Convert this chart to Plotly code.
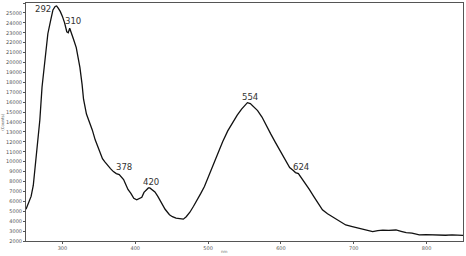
import plotly.graph_objects as go

wavelength = [250, 254, 257, 260, 262, 265, 269, 272, 276, 280, 284, 287, 290, 292,
              294, 297, 300, 303, 306, 308, 310, 312, 315, 319, 322, 324, 327, 329,
              333, 338, 341, 345, 350, 355, 358, 362, 366, 370, 374, 378, 381, 384,
              387, 390, 394, 398, 402, 405, 409, 412, 415, 418, 420, 423, 427, 431,
              436, 441, 447, 451, 456, 461, 466, 470, 475, 480, 485, 490, 495, 502,
              508, 515, 520, 527, 534, 540, 546, 550, 554, 558, 563, 568, 574, 580,
              586, 592, 596, 601, 606, 612, 617, 620, 624, 628, 633, 639, 645, 652,
              657, 664, 671, 680, 689, 698, 707, 716, 726, 733, 740, 748, 758, 765,
              772, 780, 790, 799, 808, 817, 826, 835, 844, 850]
counts = [5200, 5900, 6500, 7600, 9000, 11500, 14200, 17500, 20500, 22900, 24300, 25300, 25650, 25700,
          25500, 25150, 24650, 24000, 23100, 23000, 23450, 23100, 22400, 21500, 20300, 19500, 17800, 16300,
          14800, 13900, 13200, 12200, 11200, 10300, 10000, 9600, 9300, 9000, 8800, 8700, 8500, 8200,
          7700, 7200, 6800, 6300, 6150, 6250, 6400, 6900, 7150, 7350, 7350, 7200, 6950, 6500,
          5800, 5200, 4650, 4450, 4300, 4230, 4200, 4450, 4900, 5500, 6100, 6800, 7500, 8800,
          9800, 11200, 12000, 13100, 14000, 14700, 15300, 15650, 15950, 15850, 15500, 15150, 14500, 13600,
          12800, 12000, 11500, 10900, 10300, 9400, 9100, 8900, 8800, 8400, 7900, 7200, 6500, 5700,
          5150, 4750, 4450, 4000, 3620, 3450, 3280, 3130, 2950, 3050, 3100, 3080, 3110, 2980,
          2850, 2800, 2620, 2640, 2600, 2620, 2580, 2620, 2580, 2560]

peak_labels = ["292", "310", "378", "420", "554", "624"]
label_x = [273, 314, 384, 421, 558, 628]
label_y = [25450, 24200, 9500, 7980, 16600, 9500]

y_ticks = list(range(2000, 26001, 1000))
x_ticks = [300, 400, 500, 600, 700, 800]

fig = go.Figure()
fig.add_trace(go.Scatter(x=wavelength, y=counts, mode="lines",
                         line=dict(color="#111111", width=1.3), showlegend=False,
                         hoverinfo="skip"))

for t, xv, yv in zip(peak_labels, label_x, label_y):
    fig.add_annotation(x=xv, y=yv, text=t, showarrow=False,
                       font=dict(family="DejaVu Sans Condensed, DejaVu Sans", size=9.5, color="#333333"))

fig.add_annotation(xref="paper", yref="paper", x=0.455, y=-0.045, yanchor="middle",
                   text="nm", showarrow=False,
                   font=dict(family="DejaVu Sans", size=4, color="#666666"))
fig.add_annotation(xref="paper", yref="paper", x=-0.045, y=0.5, xanchor="right",
                   text="(Counts)", textangle=-90, showarrow=False,
                   font=dict(family="DejaVu Sans", size=4, color="#666666"))

axis_common = dict(showline=True, linecolor="#555555", linewidth=1, mirror=True,
                   ticks="outside", ticklen=2, tickcolor="#555555", showgrid=False,
                   zeroline=False, automargin=False,
                   tickfont=dict(family="DejaVu Sans", size=5, color="#555555"))

fig.update_layout(
    width=466, height=256,
    margin=dict(l=26, r=3, t=3, b=15),
    paper_bgcolor="white", plot_bgcolor="white",
    xaxis=dict(range=[250, 850], tickvals=x_ticks, tickformat="d", **axis_common),
    yaxis=dict(range=[2000, 26000], tickvals=y_ticks, tickformat="d", **axis_common),
)

fig.write_html("out.html", config={"displayModeBar": False},
               post_script="document.body.style.margin='0';document.body.style.overflow='hidden';")
